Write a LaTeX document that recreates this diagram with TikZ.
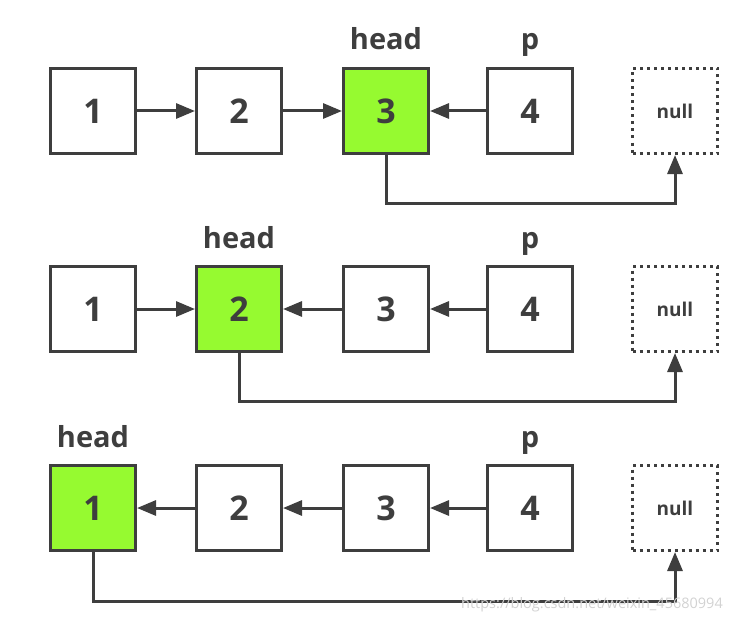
\documentclass[tikz,border=0pt]{standalone}
\usepackage{fontspec}
\setmainfont{Open Sans}
\usetikzlibrary{arrows.meta}
\definecolor{ink}{RGB}{62,62,62}
\definecolor{headgreen}{RGB}{150,250,48}
\tikzset{
  cell/.style={draw=ink, line width=3pt, minimum size=85pt, inner sep=0pt,
    text=ink, font=\bfseries\fontsize{34}{34}\selectfont},
  nullcell/.style={cell, dash pattern=on 3pt off 4pt,
    font=\bfseries\fontsize{19}{19}\selectfont},
  tag/.style={anchor=base, text=ink, font=\bfseries\fontsize{29}{29}\selectfont},
  link/.style={draw=ink, line width=3pt, -{Triangle[length=19pt,width=15pt]}},
  watermark/.style={text=gray!35, font=\fontsize{14.5}{14.5}\selectfont}
}
\begin{document}
\begin{tikzpicture}[x=1pt,y=-1pt]
  \useasboundingbox (0,0) rectangle (738,623);

  % three rows: row / centre y / which node is head
  \foreach \r/\y/\h in {1/111/3,2/309/2,3/508/1} {
    \foreach \i/\x in {1/93,2/239,3/386,4/530} {
      \ifnum\i=\h \def\cellfill{headgreen}\else \def\cellfill{white}\fi
      \node[cell, fill=\cellfill] (n\r\i) at (\x,\y) {\i};
    }
    \node[nullcell] (null\r) at (675,\y) {null};
    \node[tag] (p\r) at ([yshift=61pt]n\r4.center) {p};
    \node[tag] (head\r) at ([yshift=61pt]n\r\h.center) {head};
  }

  % row 1
  \draw[link] (n11) -- (n12);
  \draw[link] (n12) -- (n13);
  \draw[link] (n14) -- (n13);
  \draw[link] (n13.south) -- ++(0,48) -| (null1.south);

  % row 2
  \draw[link] (n21) -- (n22);
  \draw[link] (n23) -- (n22);
  \draw[link] (n24) -- (n23);
  \draw[link] (n22.south) -- ++(0,48) -| (null2.south);

  % row 3
  \draw[link] (n32) -- (n31);
  \draw[link] (n33) -- (n32);
  \draw[link] (n34) -- (n33);
  \draw[link] (n31.south) -- ++(0,49) -| (null3.south);

  \node[watermark] (wm) at (592,605) {https://blog.csdn.net/weixin\_45680994};
\end{tikzpicture}
\end{document}
